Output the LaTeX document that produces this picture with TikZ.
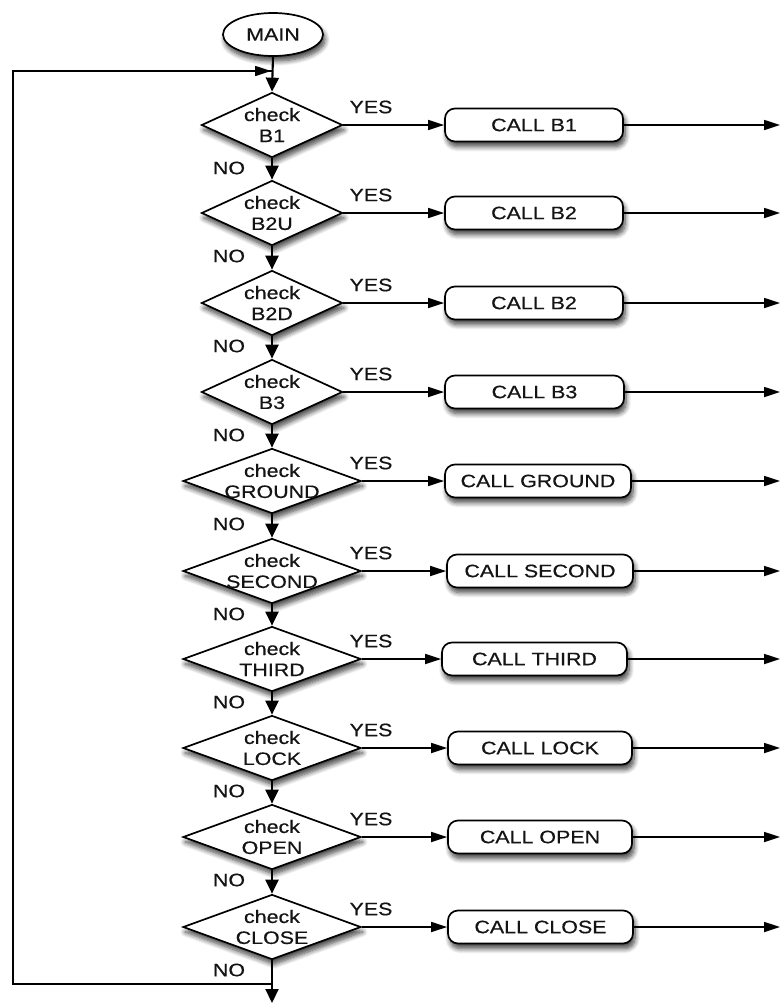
\documentclass[tikz,border=0pt]{standalone}
\usepackage{fontspec}
\setmainfont{Liberation Sans}[FakeStretch=1.19,FakeBold=0.5]
\usetikzlibrary{arrows.meta,shapes.geometric,shadows.blur}
\begin{document}
\begin{tikzpicture}[x=1pt,y=-1pt,
  every node/.style={font=\fontsize{18}{21}\selectfont, text=black!92},
  shad/.style={blur shadow={shadow xshift=2pt,shadow yshift=-5pt,shadow blur radius=5pt,shadow blur steps=8,shadow opacity=75}},
  dia/.style={diamond, draw=black, line width=1.7pt, fill=white, inner sep=0pt, minimum height=65pt, shad},
  dtext/.style={align=center, inner sep=0pt},
  callbox/.style={rectangle, rounded corners=10pt, draw=black, line width=1.7pt, fill=white, minimum height=33pt, inner sep=0pt, shad},
  startnode/.style={ellipse, draw=black, line width=1.7pt, fill=white, minimum width=100pt, minimum height=43pt, inner sep=0pt, shad},
  harr/.style={draw=black, line width=1.7pt, -{Triangle[length=16pt,width=10pt]}},
  varr/.style={draw=black, line width=2.1pt, -{Triangle[length=14pt,width=13pt]}},
  hline/.style={draw=black, line width=1.7pt},
  lbl/.style={inner sep=0pt}
]
\useasboundingbox (0,0) rectangle (781,1004);

\node[startnode] (main) at (273,34.5) {MAIN};

\foreach \i/\y/\w/\t/\bx/\bw/\bt in {
  1/125/141/B1/534/178/CALL B1,
  2/213/141/B2U/534/178/CALL B2,
  3/303/141/B2D/534/178/CALL B2,
  4/392/141/B3/534.5/179/CALL B3,
  5/481/178/GROUND/538/186/CALL GROUND,
  6/571/178/SECOND/540/186/CALL SECOND,
  7/659/178/THIRD/534.5/185/CALL THIRD,
  8/748/178/LOCK/540/184/CALL LOCK,
  9/837/178/OPEN/540/184/CALL OPEN,
  10/927/178/CLOSE/540.5/185/CALL CLOSE}{
  \node[dia, minimum width=\w pt] (d\i) at (272,\y) {};
  \node[dtext] (t\i) at (272,\y) {check\\\t};
  \node[callbox, minimum width=\bw pt] (c\i) at (\bx,\y) {\bt};
  \coordinate (e\i) at (780,\y);
  \draw[harr] (d\i.east) -- (c\i.west);
  \draw[harr] (c\i.east) -- (e\i);
  \node[lbl] (y\i) at (371,\y-18) {YES};
  \node[lbl] (n\i) at (229,\y+43) {NO};
}

\foreach \i/\j in {1/2,2/3,3/4,4/5,5/6,6/7,7/8,8/9,9/10}{
  \draw[varr] (d\i.south) -- (d\j.north);
}

% entry from MAIN and loop
\coordinate (jt) at (272,71);
\coordinate (jtl) at (271,71);
\coordinate (jb) at (272,984);
\coordinate (lb) at (13,984);
\coordinate (lt) at (13,71);
\coordinate (exit) at (272,1003);
\draw[varr] (main.south) -- (d1.north);
\draw[hline] (jb) -- (lb) -- (lt) -- (jt);
\draw[harr] (lt) -- (jtl);
\draw[varr] (d10.south) -- (exit);
\end{tikzpicture}
\end{document}
